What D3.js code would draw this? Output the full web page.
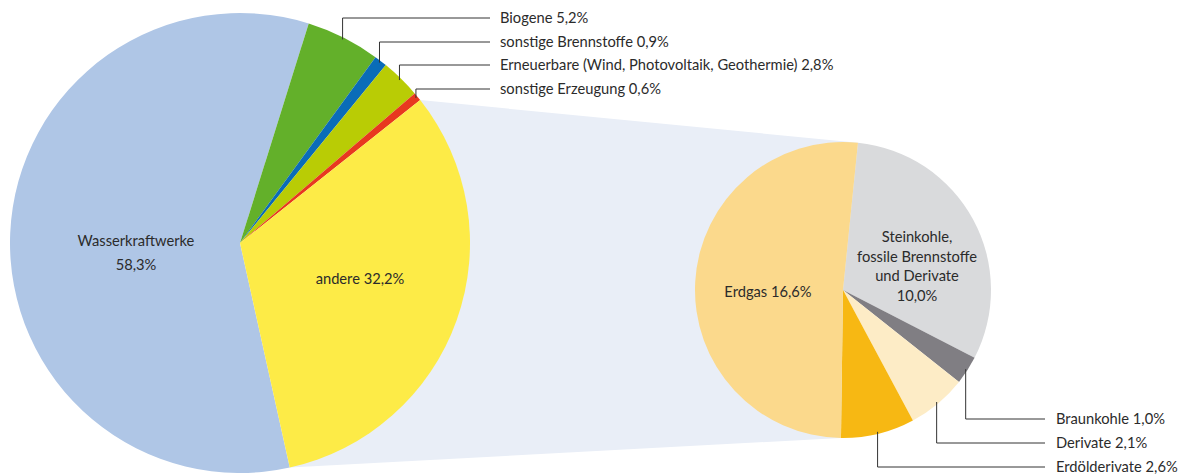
<!DOCTYPE html>
<html><head><meta charset="utf-8">
<script src="https://cdn.jsdelivr.net/npm/d3@7"></script>
<style>body{margin:0;background:#fff}svg{display:block}text{font-family:Lato,"Open Sans",sans-serif;fill:#2b2b2b;font-size:14.7px}</style>
</head><body><svg id="c" width="1184" height="475"></svg>
<script>
// Big pie data
const mainCategories = ["Wasserkraftwerke","Biogene","sonstige Brennstoffe","Erneuerbare (Wind, Photovoltaik, Geothermie)","sonstige Erzeugung","andere"];
const mainValues = [58.3, 5.2, 0.9, 2.8, 0.6, 32.2];
const mainLabels = ["58,3%","5,2%","0,9%","2,8%","0,6%","32,2%"];
const mainColors = ["#afc6e6","#63b02a","#0a6cb8","#b9cc05","#e8381f","#fdeb47"];
// Detail pie data (breakdown of "andere")
const subCategories = ["Steinkohle, fossile Brennstoffe und Derivate","Braunkohle","Derivate","Erdölderivate","Erdgas"];
const subValues = [10.0, 1.0, 2.1, 2.6, 16.6];
const subLabels = ["10,0%","1,0%","2,1%","2,6%","16,6%"];
const subColors = ["#d9dadc","#807e83","#fdecc6","#f7b813","#fbd98c"];

const svg = d3.select("#c");
const deg = Math.PI/180;
const C1 = {x:240, y:243, r:230};
const C2 = {x:843, y:290, r:148};

const pie1 = d3.pie().sort(null).startAngle(167.5*deg).endAngle(167.5*deg+2*Math.PI);
const pie2 = d3.pie().sort(null).startAngle(5.8*deg).endAngle(5.8*deg+2*Math.PI);
const a1 = pie1(mainValues), a2 = pie2(subValues);
const pt = (c, ang, r) => [c.x + (r ?? c.r)*Math.sin(ang), c.y - (r ?? c.r)*Math.cos(ang)];

// Connector
const andere = a1[5], erdgas = a2[4];
svg.append("path")
  .attr("d", d3.line()([pt(C1, andere.startAngle), pt(C2, erdgas.endAngle), pt(C2, erdgas.startAngle), pt(C1, andere.endAngle)]) + "Z")
  .attr("fill", "#e9eef7");

const arc1 = d3.arc().innerRadius(0).outerRadius(C1.r);
const arc2 = d3.arc().innerRadius(0).outerRadius(C2.r);
const g1 = svg.append("g").attr("transform", `translate(${C1.x},${C1.y})`);
g1.selectAll("path").data(a1).join("path").attr("d", arc1).attr("fill", (d,i)=>mainColors[i]);
const g2 = svg.append("g").attr("transform", `translate(${C2.x},${C2.y})`);
g2.selectAll("path").data(a2).join("path").attr("d", arc2).attr("fill", (d,i)=>subColors[i]);

// Inside labels
const txt = (x, y, s, anchor="middle") => svg.append("text").attr("x", x).attr("y", y).attr("text-anchor", anchor).text(s);
txt(136, 246, mainCategories[0]);
txt(136, 270, mainLabels[0]);
txt(360, 284, mainCategories[5] + " " + mainLabels[5]);
txt(768, 297, subCategories[4] + " " + subLabels[4]);
["Steinkohle,","fossile Brennstoffe","und Derivate",subLabels[0]].forEach((s,i)=>txt(917, 242+i*19.5, s));

// Leader lines top (big pie small slices)
const topIdx = [1,2,3,4];
const topY = [18, 42, 65, 89];
topIdx.forEach((idx, k) => {
  const d = a1[idx];
  const m = (d.startAngle + d.endAngle)/2;
  const [x, y] = pt(C1, m, C1.r - 2);
  svg.append("path").attr("d", `M${x},${y}V${topY[k]}H490`).attr("fill","none").attr("stroke","#333").attr("stroke-width",1);
  txt(500, topY[k]+5, mainCategories[idx] + " " + mainLabels[idx], "start");
});

// Leader lines bottom (small pie)
const botIdx = [1,2,3];
const botY = [419, 443, 467];
botIdx.forEach((idx, k) => {
  const d = a2[idx];
  const m = (d.startAngle + d.endAngle)/2;
  const [x, y] = pt(C2, m, C2.r - 2);
  svg.append("path").attr("d", `M${x},${y}V${botY[k]}H1045`).attr("fill","none").attr("stroke","#333").attr("stroke-width",1);
  txt(1056, botY[k]+5, subCategories[idx] + " " + subLabels[idx], "start");
});
</script></body></html>
